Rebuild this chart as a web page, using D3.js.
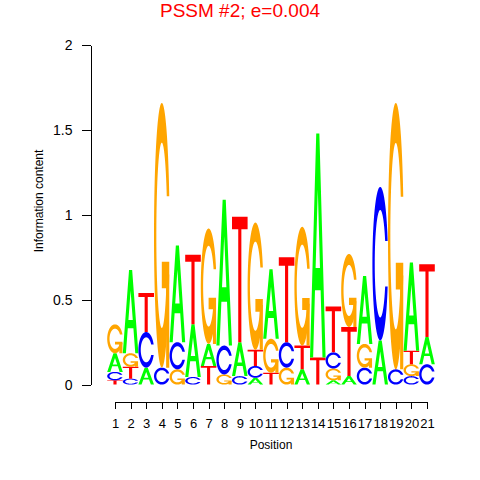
<!DOCTYPE html>
<html><head><meta charset="utf-8">
<script src="https://cdn.jsdelivr.net/npm/d3@7"></script>
<style>body{margin:0;background:#fff}svg{display:block}</style>
</head><body><svg id="c" width="480" height="480"></svg>
<script>
// ---- data (information content in bits per base, per position) ----
const positions = [1,2,3,4,5,6,7,8,9,10,11,12,13,14,15,16,17,18,19,20,21];
const bitsA = [0.11,0.49,0.10,0.00,0.57,0.31,0.13,0.86,0.20,0.04,0.41,0.00,0.09,1.32,0.025,0.05,0.40,0.26,0.00,0.52,0.16];
const bitsC = [0.05,0.035,0.21,0.10,0.16,0.045,0.00,0.17,0.05,0.07,0.00,0.15,0.00,0.00,0.095,0.00,0.10,0.905,0.09,0.05,0.12];
const bitsG = [0.17,0.08,0.00,1.56,0.09,0.00,0.68,0.06,0.00,0.75,0.20,0.10,0.70,0.00,0.07,0.43,0.14,0.00,1.57,0.07,0.00];
const bitsT = [0.025,0.07,0.23,0.00,0.00,0.41,0.11,0.00,0.74,0.095,0.07,0.50,0.14,0.16,0.27,0.29,0.00,0.00,0.00,0.08,0.43];
const yTicks = [0,0.5,1,1.5,2];
const bases = ["A","C","G","T"];
const baseColors = {A:"#00FF00", C:"#0000FF", G:"#FFA500", T:"#FF0000"};
const titleText = "PSSM #2; e=0.004";
const xLabel = "Position";
const yLabel = "Information content";

const bitsByBase = {A:bitsA, C:bitsC, G:bitsG, T:bitsT};

// ---- scales ----
const svg = d3.select("#c");
const x = d3.scaleLinear().domain([0.5, 21.5]).range([107.2, 434.8]);
const y = d3.scaleLinear().domain([0, 2]).range([384.6, 45.3]);

// ---- glyph outlines in a unit box (seqLogo style) ----
function linspace(a,b,n){ const r=[]; for(let i=0;i<n;i++) r.push(a+(b-a)*i/(n-1)); return r; }
function cShape(){
  const a1 = linspace(0.3+Math.PI/2, Math.PI, 100), a2 = linspace(Math.PI, 1.5*Math.PI, 100);
  const xl1 = a1.map(a=>0.5+0.5*Math.sin(a)), yl1 = a1.map(a=>0.5+0.5*Math.cos(a));
  const xl2 = a2.map(a=>0.5+0.5*Math.sin(a)), yl2 = a2.map(a=>0.5+0.5*Math.cos(a));
  const xl = xl1.concat(xl2), yl = yl1.concat(yl2);
  let xs = xl.concat(xl.slice().reverse());
  let ys = yl.concat(yl.slice().reverse().map(v=>1-v));
  const maxY = Math.max(...yl1);
  let xi1 = a1.map(a=>0.5+0.35*Math.sin(a)), yi1 = a1.map(a=>0.5+0.35*Math.cos(a));
  const keep = yi1.map(v=>v<=maxY);
  xi1 = xi1.filter((v,i)=>keep[i]); yi1 = yi1.filter((v,i)=>keep[i]);
  yi1[0] = maxY;
  const xi2 = a2.map(a=>0.5+0.35*Math.sin(a)), yi2 = a2.map(a=>0.5+0.35*Math.cos(a));
  const xi = xi1.concat(xi2), yi = yi1.concat(yi2);
  const x1 = xi.concat(xi.slice().reverse());
  const y1 = yi.concat(yi.slice().reverse().map(v=>1-v));
  xs = xs.concat(x1.slice().reverse());
  ys = ys.concat(y1.slice().reverse());
  return {pts: xs.map((v,i)=>[v, ys[i]]), r1: Math.max(...xl1)};
}
const cs = cShape();
const glyphs = {
  A: [[[0,0],[0.4,1],[0.6,1],[1,0],[0.8,0],[0.68,0.3],[0.32,0.3],[0.2,0]],
      [[0.36,0.4],[0.5,0.75],[0.64,0.4]]],
  C: [cs.pts],
  G: [cs.pts],
  T: [[[0,1],[1,1],[1,0.9],[0.6,0.9],[0.6,0],[0.4,0],[0.4,0.9],[0,0.9]]]
};
const gBar = [[cs.r1,0.4],[0.5,0.4],[0.5,0.3],[cs.r1-0.2,0.3],[cs.r1-0.2,0],[cs.r1,0]];

function ringPath(rings, p, y0, h){
  return rings.map(r => "M" + r.map(([gx,gy]) =>
    x(p-0.5+gx).toFixed(2)+","+y(y0+gy*h).toFixed(2)).join("L")+"Z").join("");
}

// ---- letters ----
const gLetters = svg.append("g");
positions.forEach((p, i) => {
  const stack = bases.map(b => ({b, h: bitsByBase[b][i]})).filter(d=>d.h>0)
    .sort((a,b)=>a.h-b.h);
  let y0 = 0;
  stack.forEach(d => {
    gLetters.append("path").attr("d", ringPath(glyphs[d.b], p, y0, d.h))
      .attr("fill", baseColors[d.b]).attr("fill-rule","evenodd");
    if (d.b === "G") {
      gLetters.append("path").attr("d", ringPath([gBar], p, y0, d.h))
        .attr("fill", baseColors[d.b]);
    }
    y0 += d.h;
  });
});

// ---- axes ----
const font = "Liberation Sans, Arial, Helvetica, sans-serif";
const yAxis = svg.append("g").attr("transform","translate(90.5,0)")
  .call(d3.axisLeft(y).tickValues(yTicks).tickFormat(d=>String(d)).tickSize(9).tickSizeOuter(0).tickPadding(9));
const xs = d3.scaleLinear().domain([1,21]).range([x(1), x(21)]);
const xAxis = svg.append("g").attr("transform","translate(0,401.5)")
  .call(d3.axisBottom(xs).tickValues(positions).tickFormat(d=>String(d)).tickSize(7).tickSizeOuter(0).tickPadding(10));
[yAxis, xAxis].forEach(a => {
  a.selectAll("path,line").attr("stroke","#000").attr("stroke-width",1).attr("shape-rendering","crispEdges");
  a.selectAll("text").attr("fill","#000").style("font-family",font);
});
yAxis.selectAll("text").style("font-size","14px");
xAxis.selectAll("text").style("font-size","13px");

svg.append("text").attr("x", 271).attr("y", 449).attr("text-anchor","middle")
  .style("font-family",font).style("font-size","12px").text(xLabel);
svg.append("text").attr("transform","translate(43,201) rotate(-90)").attr("text-anchor","middle")
  .style("font-family",font).style("font-size","12px").text(yLabel);
svg.append("text").attr("x", 240).attr("y", 17).attr("text-anchor","middle")
  .attr("fill","#FF0000").style("font-family",font).style("font-size","19px").text(titleText);
</script></body></html>
